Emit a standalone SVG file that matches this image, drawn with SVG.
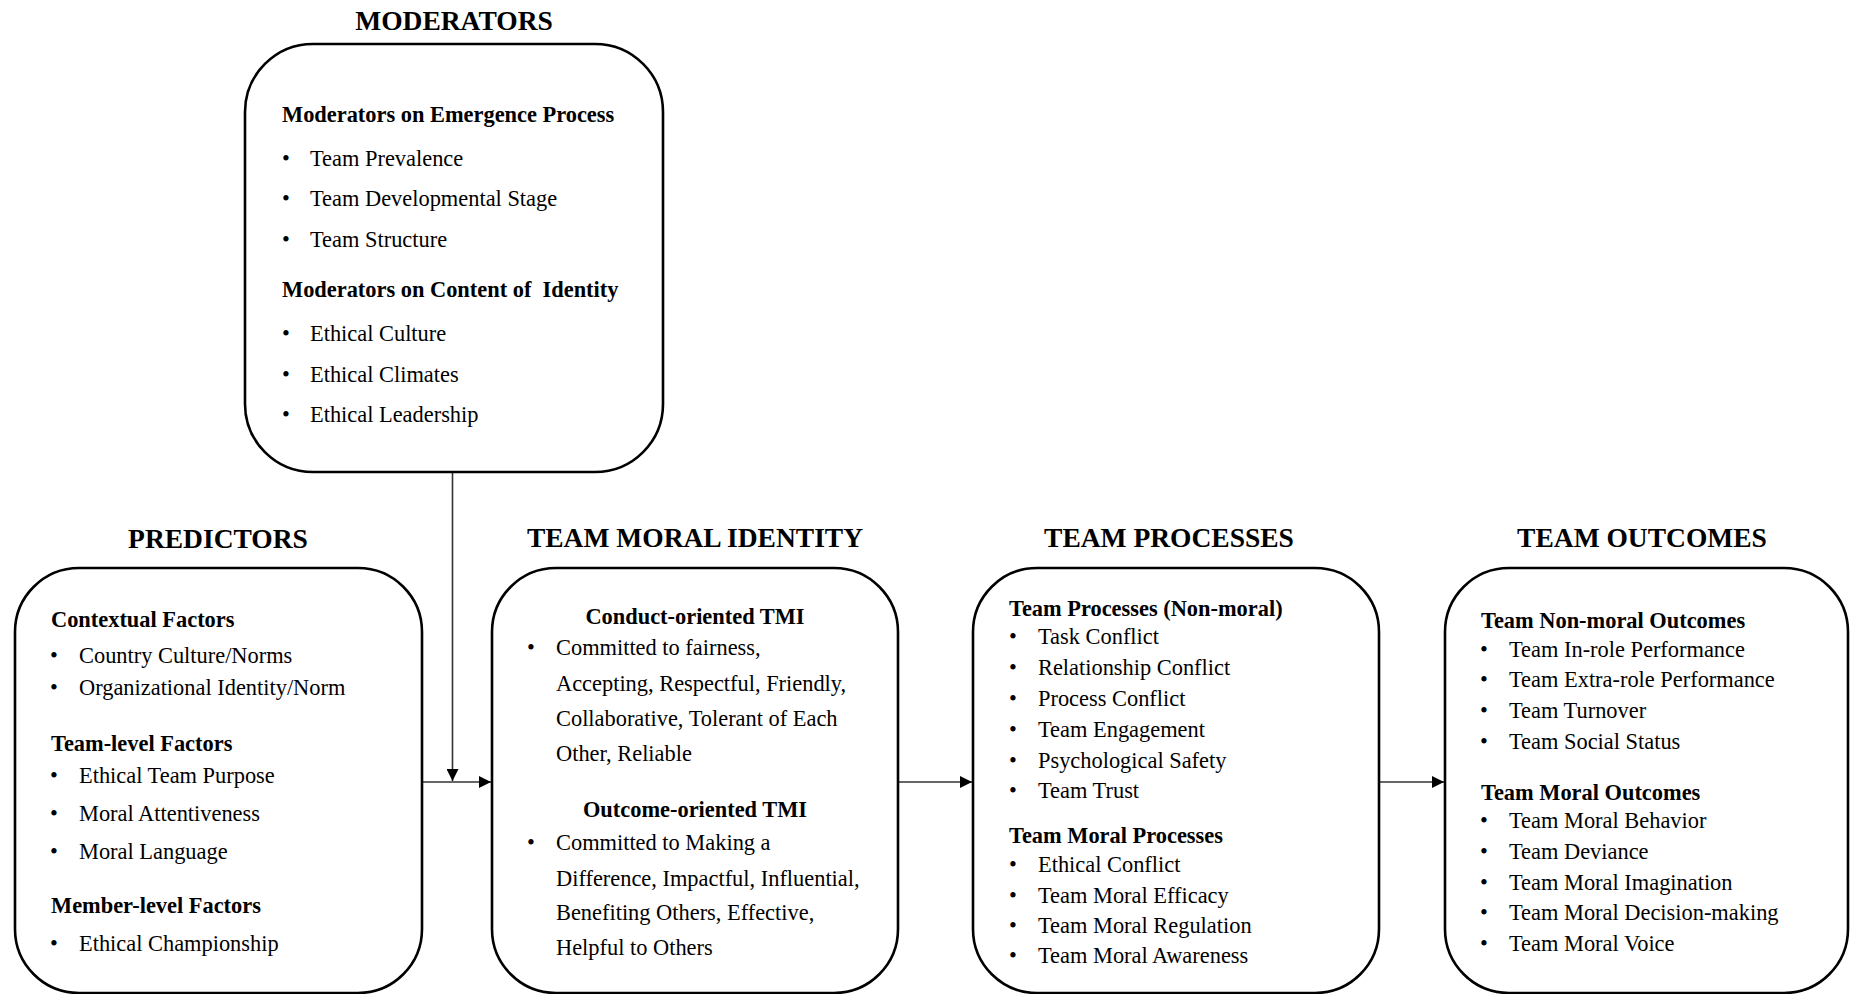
<svg xmlns="http://www.w3.org/2000/svg" width="1854" height="994" viewBox="0 0 1854 994">
<style>
.box{fill:#fff;stroke:#000;stroke-width:2.6}
.t{font-family:"Liberation Serif","Times New Roman",serif;font-size:22.4px;fill:#000}
.b{font-weight:bold}
.h{font-family:"Liberation Serif","Times New Roman",serif;font-size:27.5px;font-weight:bold;fill:#000;text-anchor:middle}
.c{text-anchor:middle}
.con{stroke:#333;stroke-width:1.6;fill:none}
</style>
<defs>
<marker id="arr" markerUnits="userSpaceOnUse" markerWidth="13" markerHeight="12" refX="12" refY="6" orient="auto">
<path d="M0,0 L12,6 L0,12 z" fill="#000"/>
</marker>
</defs>
<rect width="1854" height="994" fill="#fff"/>

<g id="connectors">
<path class="con" d="M452.5,472 V781" marker-end="url(#arr)"/>
<path class="con" d="M422,782 H491" marker-end="url(#arr)"/>
<path class="con" d="M898,782 H972" marker-end="url(#arr)"/>
<path class="con" d="M1379,782 H1444" marker-end="url(#arr)"/>
</g>

<g id="moderators">
<text class="h" x="454" y="30">MODERATORS</text>
<rect class="box" x="245" y="44" width="418" height="428" rx="68" ry="68"/>
<text class="t b" x="282" y="122">Moderators on Emergence Process</text>
<g class="t">
<text x="282" y="166">•</text><text x="310" y="166">Team Prevalence</text>
<text x="282" y="206">•</text><text x="310" y="206">Team Developmental Stage</text>
<text x="282" y="247">•</text><text x="310" y="247">Team Structure</text>
</g>
<text class="t b" x="282" y="297" xml:space="preserve">Moderators on Content of  Identity</text>
<g class="t">
<text x="282" y="341">•</text><text x="310" y="341">Ethical Culture</text>
<text x="282" y="382">•</text><text x="310" y="382">Ethical Climates</text>
<text x="282" y="422">•</text><text x="310" y="422">Ethical Leadership</text>
</g>
</g>

<g id="predictors">
<text class="h" x="218" y="548">PREDICTORS</text>
<rect class="box" x="15" y="568" width="407" height="425" rx="64" ry="64"/>
<text class="t b" x="51" y="627">Contextual Factors</text>
<g class="t">
<text x="50" y="663">•</text><text x="79" y="663">Country Culture/Norms</text>
<text x="50" y="695">•</text><text x="79" y="695">Organizational Identity/Norm</text>
</g>
<text class="t b" x="51" y="751">Team-level Factors</text>
<g class="t">
<text x="50" y="783">•</text><text x="79" y="783">Ethical Team Purpose</text>
<text x="50" y="821">•</text><text x="79" y="821">Moral Attentiveness</text>
<text x="50" y="859">•</text><text x="79" y="859">Moral Language</text>
</g>
<text class="t b" x="51" y="913">Member-level Factors</text>
<g class="t">
<text x="50" y="951">•</text><text x="79" y="951">Ethical Championship</text>
</g>
</g>

<g id="team-moral-identity">
<text class="h" x="695" y="547">TEAM MORAL IDENTITY</text>
<rect class="box" x="492" y="568" width="406" height="425" rx="64" ry="64"/>
<text class="t b c" x="695" y="624">Conduct-oriented TMI</text>
<g class="t">
<text x="527" y="655">•</text>
<text x="556" y="655">Committed to fairness,</text>
<text x="556" y="691">Accepting, Respectful, Friendly,</text>
<text x="556" y="726">Collaborative, Tolerant of Each</text>
<text x="556" y="761">Other, Reliable</text>
</g>
<text class="t b c" x="695" y="817">Outcome-oriented TMI</text>
<g class="t">
<text x="527" y="850">•</text>
<text x="556" y="850">Committed to Making a</text>
<text x="556" y="886">Difference, Impactful, Influential,</text>
<text x="556" y="920">Benefiting Others, Effective,</text>
<text x="556" y="955">Helpful to Others</text>
</g>
</g>

<g id="team-processes">
<text class="h" x="1169" y="547">TEAM PROCESSES</text>
<rect class="box" x="973" y="568" width="406" height="425" rx="64" ry="64"/>
<text class="t b" x="1009" y="616">Team Processes (Non-moral)</text>
<g class="t">
<text x="1009" y="644">•</text><text x="1038" y="644">Task Conflict</text>
<text x="1009" y="675">•</text><text x="1038" y="675">Relationship Conflict</text>
<text x="1009" y="706">•</text><text x="1038" y="706">Process Conflict</text>
<text x="1009" y="737">•</text><text x="1038" y="737">Team Engagement</text>
<text x="1009" y="768">•</text><text x="1038" y="768">Psychological Safety</text>
<text x="1009" y="798">•</text><text x="1038" y="798">Team Trust</text>
</g>
<text class="t b" x="1009" y="843">Team Moral Processes</text>
<g class="t">
<text x="1009" y="872">•</text><text x="1038" y="872">Ethical Conflict</text>
<text x="1009" y="903">•</text><text x="1038" y="903">Team Moral Efficacy</text>
<text x="1009" y="933">•</text><text x="1038" y="933">Team Moral Regulation</text>
<text x="1009" y="963">•</text><text x="1038" y="963">Team Moral Awareness</text>
</g>
</g>

<g id="team-outcomes">
<text class="h" x="1642" y="547">TEAM OUTCOMES</text>
<rect class="box" x="1445" y="568" width="403" height="425" rx="64" ry="64"/>
<text class="t b" x="1481" y="628">Team Non-moral Outcomes</text>
<g class="t">
<text x="1480" y="657">•</text><text x="1509" y="657">Team In-role Performance</text>
<text x="1480" y="687">•</text><text x="1509" y="687">Team Extra-role Performance</text>
<text x="1480" y="718">•</text><text x="1509" y="718">Team Turnover</text>
<text x="1480" y="749">•</text><text x="1509" y="749">Team Social Status</text>
</g>
<text class="t b" x="1481" y="800">Team Moral Outcomes</text>
<g class="t">
<text x="1480" y="828">•</text><text x="1509" y="828">Team Moral Behavior</text>
<text x="1480" y="859">•</text><text x="1509" y="859">Team Deviance</text>
<text x="1480" y="890">•</text><text x="1509" y="890">Team Moral Imagination</text>
<text x="1480" y="920">•</text><text x="1509" y="920">Team Moral Decision-making</text>
<text x="1480" y="951">•</text><text x="1509" y="951">Team Moral Voice</text>
</g>
</g>
</svg>
